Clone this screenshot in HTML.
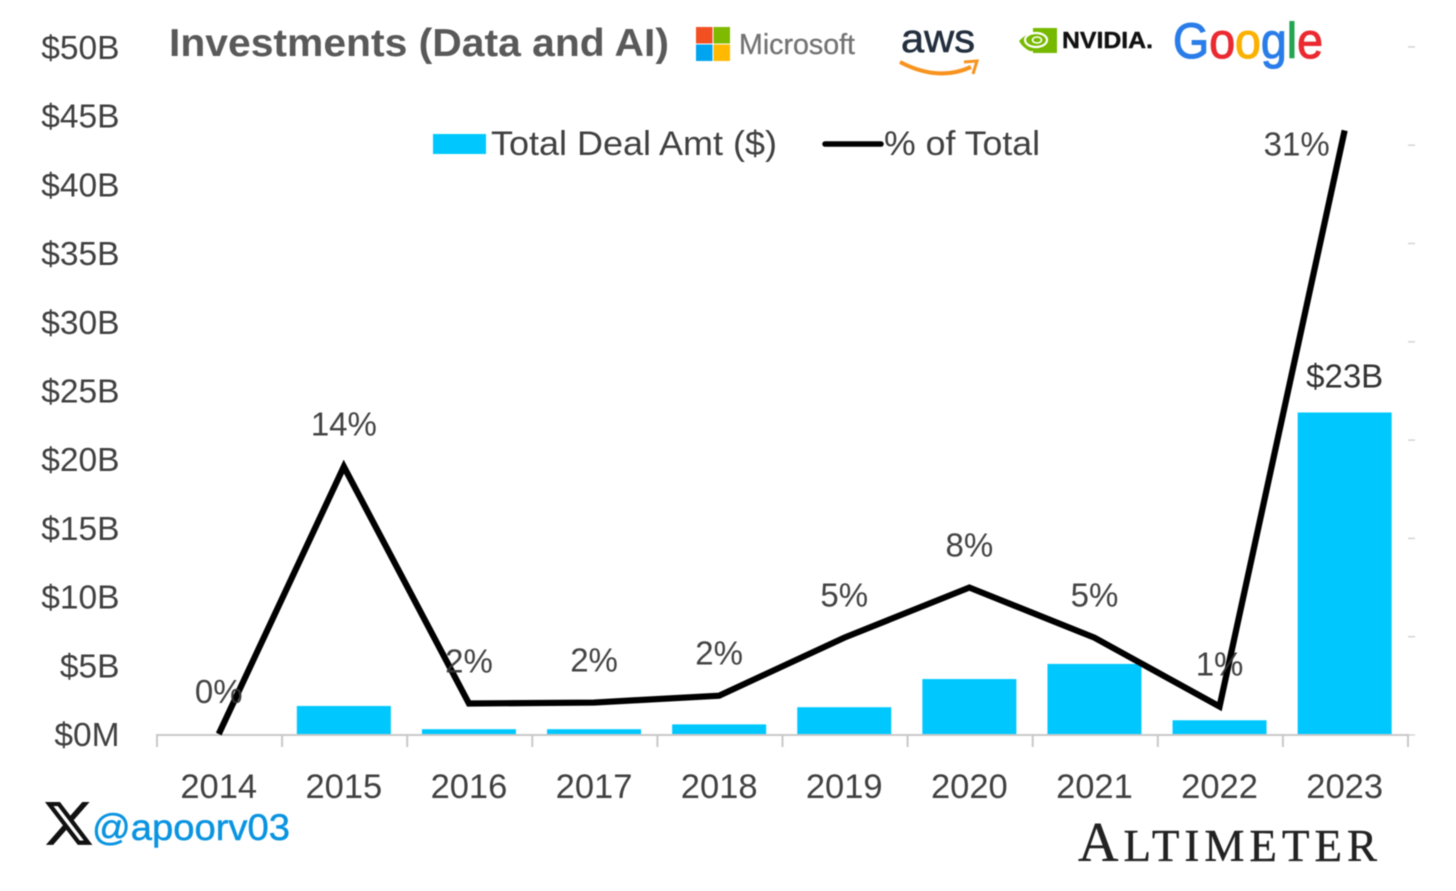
<!DOCTYPE html>
<html lang="en">
<head>
<meta charset="utf-8">
<title>Investments (Data and AI)</title>
<style>
html,body{margin:0;padding:0;background:#fff;width:1456px;height:891px;overflow:hidden}
svg{display:block;filter:blur(.45px)}
text{font-family:"Liberation Sans",sans-serif}
</style>
</head>
<body>
<svg id="chart" xmlns="http://www.w3.org/2000/svg" width="1456" height="891" viewBox="0 0 1456 891">
  <rect width="1456" height="891" fill="#fff"/>
  <text x="169" y="56" font-size="39" font-weight="700" fill="#595959" textLength="500" lengthAdjust="spacingAndGlyphs">Investments (Data and AI)</text>

  <g>
    <rect x="696" y="27" width="16.5" height="16.5" fill="#F25022"/>
    <rect x="713.5" y="27" width="16.5" height="16.5" fill="#7FBA00"/>
    <rect x="696" y="44.5" width="16.5" height="16.5" fill="#00A4EF"/>
    <rect x="713.5" y="44.5" width="16.5" height="16.5" fill="#FFB900"/>
    <text x="739" y="54" font-size="29" fill="#737373" stroke="#737373" stroke-width=".3" textLength="116" lengthAdjust="spacingAndGlyphs">Microsoft</text>
  </g>

  <g>
    <text x="901" y="52" font-size="40" fill="#232F3E" stroke="#232F3E" stroke-width=".6" textLength="74" lengthAdjust="spacingAndGlyphs">aws</text>
    <path d="M900 62 Q938 82 971 67" fill="none" stroke="#F7931E" stroke-width="4"/>
    <path d="M964 62 L977 61 L973 74" fill="none" stroke="#F7931E" stroke-width="3"/>
  </g>

  <g>
    <rect x="1033" y="28" width="24" height="25" fill="#76B900"/>
    <path d="M1019 41 Q1033 26 1050 37 Q1044 52 1030 51 Q1023 48 1019 41Z" fill="#76B900"/>
    <ellipse cx="1036" cy="40" rx="11" ry="7" fill="none" stroke="#fff" stroke-width="2.2"/>
    <ellipse cx="1037" cy="40" rx="4.5" ry="3" fill="none" stroke="#fff" stroke-width="1.6"/>
    <text x="1062" y="48" font-size="23" font-weight="700" fill="#111" stroke="#111" stroke-width=".4" textLength="91" lengthAdjust="spacingAndGlyphs">NVIDIA.</text>
  </g>

  <text x="1173" y="58" font-size="50" stroke-width="1.1" textLength="150" lengthAdjust="spacingAndGlyphs"><tspan fill="#2A7DE9" stroke="#2A7DE9">G</tspan><tspan fill="#EA2A30" stroke="#EA2A30">o</tspan><tspan fill="#FBB100" stroke="#FBB100">o</tspan><tspan fill="#2A7DE9" stroke="#2A7DE9">g</tspan><tspan fill="#22A650" stroke="#22A650">l</tspan><tspan fill="#EA2A30" stroke="#EA2A30">e</tspan></text>

  <g>
    <rect x="433" y="134" width="53" height="20" fill="#00C8FF"/>
    <text x="491" y="155" font-size="34" fill="#404040" textLength="286" lengthAdjust="spacingAndGlyphs">Total Deal Amt ($)</text>
    <line x1="825" y1="144" x2="881" y2="144" stroke="#000" stroke-width="5.5" stroke-linecap="round"/>
    <text x="884" y="155" font-size="34" fill="#404040" textLength="156" lengthAdjust="spacingAndGlyphs">% of Total</text>
  </g>

  <g id="yAxisLeft"></g>
  <g id="yAxisRight"></g>
  <g id="bars"></g>
  <g id="xAxis"></g>
  <path id="pctLine" fill="none" stroke="#000" stroke-width="6.2" stroke-linejoin="miter"/>
  <g id="labels"></g>

  <g>
    <path transform="translate(42.2 797) scale(2.2)" d="M18.244 2.25h3.308l-7.227 8.26 8.502 11.24H16.17l-5.214-6.817L4.99 21.75H1.68l7.73-8.835L1.254 2.25H8.08l4.713 6.231zm-1.161 17.52h1.833L7.084 4.126H5.117z" fill="#111"/>
    <text x="92" y="840" font-size="37" fill="#0A94E0" stroke="#0A94E0" stroke-width=".5" textLength="198" lengthAdjust="spacingAndGlyphs">@apoorv03</text>
  </g>
  <text x="1078" y="861" textLength="299" lengthAdjust="spacing" fill="#222" stroke="#222" stroke-width=".4" style="font-family:'Liberation Serif',serif"><tspan font-size="56">A</tspan><tspan font-size="45">LTIMETER</tspan></text>
</svg>

<script>
var categories = ['2014','2015','2016','2017','2018','2019','2020','2021','2022','2023'];
var dealAmounts = [0, 2.04, 0.35, 0.35, 0.7, 1.95, 4.0, 5.1, 1.0, 23.4];
var percentOfTotal = [0, 13.6, 1.55, 1.6, 1.95, 4.9, 7.45, 4.9, 1.4, 30.7];
var percentLabels = ['0%','14%','2%','2%','2%','5%','8%','5%','1%','31%'];
var barValueLabels = ['','','','','','','','','','$23B'];
var leftTicks = [0,5,10,15,20,25,30,35,40,45,50];
var leftTickLabels = ['$0M','$5B','$10B','$15B','$20B','$25B','$30B','$35B','$40B','$45B','$50B'];
var rightTicks = [0,5,10,15,20,25,30,35];

var SVG_NS = 'http://www.w3.org/2000/svg';
var axisY = 734, plotLeft = 157, plotRight = 1408;
var band = (plotRight - plotLeft) / categories.length;
function xCenter(i){ return plotLeft - 0.8 + band * (i + 0.5); }
function yLeft(v){ return axisY - v * 13.74; }
function yRight(p){ return axisY - p * 19.66; }
function make(tag, parent, attrs, txt){
  var el = document.createElementNS(SVG_NS, tag);
  for (var k in attrs) el.setAttribute(k, attrs[k]);
  if (txt !== undefined) el.textContent = txt;
  document.getElementById(parent).appendChild(el);
  return el;
}

leftTicks.forEach(function(v, i){
  var el = make('text', 'yAxisLeft', {x:119.5, y:yLeft(v)+12, 'text-anchor':'end', 'font-size':33.5, fill:'#404040'}, leftTickLabels[i]);
  
  
});

rightTicks.forEach(function(p){
  var el = make('line', 'yAxisRight', {x1:plotRight, x2:plotRight+7, y1:yRight(p)+1, y2:yRight(p)+1, stroke:'#d4d4d4', 'stroke-width':1.5});
  
  
});

dealAmounts.forEach(function(v, i){
  if (v <= 0) return;
  var top = yLeft(v);
  var el = make('rect', 'bars', {x:xCenter(i)-47, y:top, width:94, height:axisY-top, fill:'#00C8FF'});
  
  
});

var baseLine = make('line', 'xAxis', {x1:plotLeft, x2:plotRight, y1:axisY+1, y2:axisY+1, stroke:'#c8c8c8', 'stroke-width':2});


for (var t = 0; t <= categories.length; t++) {
  var tick = make('line', 'xAxis', {x1:plotLeft+band*t, x2:plotLeft+band*t, y1:axisY, y2:axisY+13, stroke:'#c8c8c8', 'stroke-width':2});
  
  
}
categories.forEach(function(c, i){
  var el = make('text', 'xAxis', {x:xCenter(i), y:798, 'text-anchor':'middle', 'font-size':34.5, fill:'#404040'}, c);
  
  
});

var d = percentOfTotal.map(function(p, i){ return (i ? 'L' : 'M') + xCenter(i) + ' ' + yRight(p); }).join(' ');
document.getElementById('pctLine').setAttribute('d', d);

percentLabels.forEach(function(lbl, i){
  var last = i === percentLabels.length - 1;
  var lx = last ? xCenter(i) - 48 : xCenter(i);
  var ly = last ? yRight(percentOfTotal[i]) + 25 : yRight(percentOfTotal[i]) - 31;
  var el = make('text', 'labels', {x:lx, y:ly, 'text-anchor':'middle', 'font-size':33, fill:'#333', 'fill-opacity':0.92}, lbl);
  
  
});

barValueLabels.forEach(function(lbl, i){
  if (!lbl) return;
  var el = make('text', 'labels', {x:xCenter(i), y:yLeft(dealAmounts[i])-25, 'text-anchor':'middle', 'font-size':33, fill:'#333'}, lbl);
  
  
});
</script>
</body>
</html>
